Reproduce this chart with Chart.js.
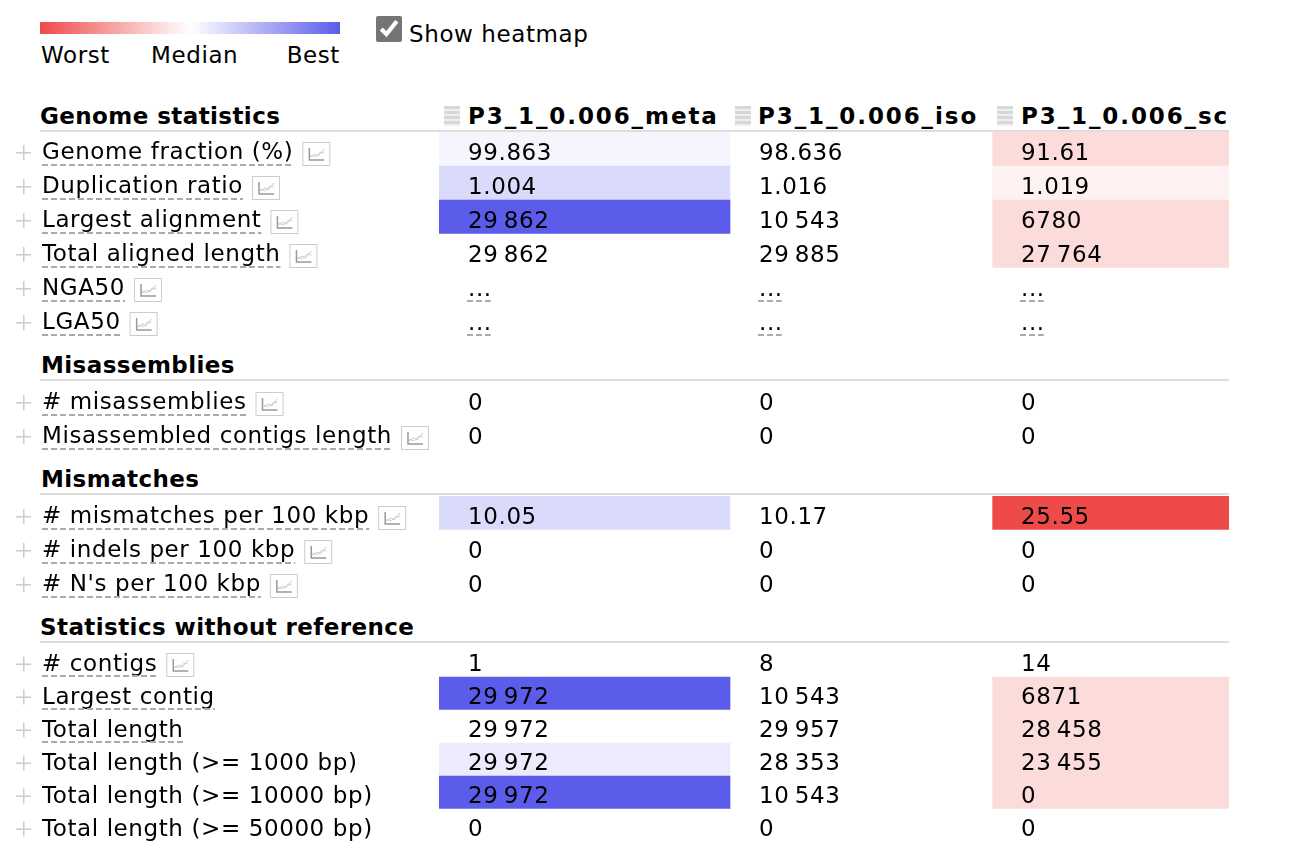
<!DOCTYPE html>
<html lang="en">
<head>
<meta charset="UTF-8" />
<title>Genome statistics</title>
<script src="https://cdn.jsdelivr.net/npm/chart.js"></script>
<style>
  html, body { margin: 0; background: #fff; overflow: hidden; }
  body { position: relative; width: 1311px; height: 851px; font: 23px "DejaVu Sans", sans-serif; letter-spacing: 0.6px; color: #000; }
  .abs { position: absolute; white-space: nowrap; line-height: 26px; }
  canvas { position: absolute; left: 0; }
  .head { font-weight: bold; letter-spacing: 0.42px; }
  .col { letter-spacing: 1.9px; }
  .rule { position: absolute; left: 40px; width: 1189px; height: 2px; background: #ddd; }
  .grip { position: absolute; width: 16px; height: 20px; background: repeating-linear-gradient(#d8d8d8 0 3px, #efefef 3px 5px); }
  #bar { position: absolute; left: 40px; top: 22px; width: 300px; height: 12px; background: linear-gradient(90deg, #ef4a4a, #fff 50%, #5c5ceb); }
  #heat { position: absolute; left: 376px; top: 16px; width: 26px; height: 26px; margin: 0; accent-color: #757575; }
</style>
</head>
<body>
  <div id="bar"></div>
  <div class="abs" style="left:41px;top:42px">Worst</div>
  <div class="abs" style="left:151px;top:42px">Median</div>
  <div class="abs" style="right:971px;top:42px">Best</div>
  <input id="heat" type="checkbox" checked />
  <div class="abs" style="left:409px;top:21px">Show heatmap</div>

  <div class="abs head" style="left:40px;top:103px">Genome statistics</div>
  <div class="grip" style="left:444px;top:106px"></div>
  <div class="abs head col" style="left:468px;top:103px">P3_1_0.006_meta</div>
  <div class="grip" style="left:735px;top:106px"></div>
  <div class="abs head col" style="left:758px;top:103px">P3_1_0.006_iso</div>
  <div class="grip" style="left:997px;top:106px"></div>
  <div class="abs head col" style="left:1021px;top:103px">P3_1_0.006_sc</div>
  <div class="rule" style="top:130px"></div>

  <div class="abs head" style="left:41px;top:352px">Misassemblies</div>
  <div class="rule" style="top:379px"></div>
  <div class="abs head" style="left:41px;top:466px">Mismatches</div>
  <div class="rule" style="top:493px"></div>
  <div class="abs head" style="left:40px;top:614px">Statistics without reference</div>
  <div class="rule" style="top:641px"></div>

  <canvas id="genomeChart"></canvas>
  <canvas id="misassemblyChart"></canvas>
  <canvas id="mismatchChart"></canvas>
  <canvas id="noRefChart"></canvas>

  <script>
    // cell texts, one list per assembly; heat is -1 (worst) .. 1 (best), 0 = no fill
    const genomeLabels = ['Genome fraction (%)', 'Duplication ratio', 'Largest alignment', 'Total aligned length', 'NGA50', 'LGA50'];
    const genomeMeta = ['99.863', '1.004', '29\u2009862', '29\u2009862', '...', '...'];
    const genomeIso = ['98.636', '1.016', '10\u2009543', '29\u2009885', '...', '...'];
    const genomeSc = ['91.61', '1.019', '6780', '27\u2009764', '...', '...'];
    const genomeHeatMeta = [0.06, 0.23, 1, 0, 0, 0];
    const genomeHeatIso = [0, 0, 0, 0, 0, 0];
    const genomeHeatSc = [-0.2, -0.08, -0.2, -0.2, 0, 0];

    const misassemblyLabels = ['# misassemblies', 'Misassembled contigs length'];
    const misassemblyMeta = ['0', '0'];
    const misassemblyIso = ['0', '0'];
    const misassemblySc = ['0', '0'];
    const misassemblyHeatMeta = [0, 0];
    const misassemblyHeatIso = [0, 0];
    const misassemblyHeatSc = [0, 0];

    const mismatchLabels = ['# mismatches per 100 kbp', '# indels per 100 kbp', "# N's per 100 kbp"];
    const mismatchMeta = ['10.05', '0', '0'];
    const mismatchIso = ['10.17', '0', '0'];
    const mismatchSc = ['25.55', '0', '0'];
    const mismatchHeatMeta = [0.23, 0, 0];
    const mismatchHeatIso = [0, 0, 0];
    const mismatchHeatSc = [-1, 0, 0];

    const noRefLabels = ['# contigs', 'Largest contig', 'Total length', 'Total length (>= 1000 bp)', 'Total length (>= 10000 bp)', 'Total length (>= 50000 bp)'];
    const noRefMeta = ['1', '29\u2009972', '29\u2009972', '29\u2009972', '29\u2009972', '0'];
    const noRefIso = ['8', '10\u2009543', '29\u2009957', '28\u2009353', '10\u2009543', '0'];
    const noRefSc = ['14', '6871', '28\u2009458', '23\u2009455', '0', '0'];
    const noRefHeatMeta = [0, 1, 0, 0.12, 1, 0];
    const noRefHeatIso = [0, 0, 0, 0, 0, 0];
    const noRefHeatSc = [0, -0.2, -0.2, -0.2, -0.2, 0];

    const assemblies = ['P3_1_0.006_meta', 'P3_1_0.006_iso', 'P3_1_0.006_sc'];
    const noIcon = ['Largest contig', 'Total length', 'Total length (>= 1000 bp)', 'Total length (>= 10000 bp)', 'Total length (>= 50000 bp)'];
    const noUnderline = ['Total length (>= 1000 bp)', 'Total length (>= 10000 bp)', 'Total length (>= 50000 bp)'];

    // table layout
    const columnWidths = [291, 262, 237];
    const labelColumn = 439;
    const labelLeft = 42;
    const textFont = '23px "DejaVu Sans", sans-serif';

    function heatColor(h) {
      const full = h < 0 ? [239, 74, 74] : [92, 92, 235];
      const a = Math.abs(h);
      const c = full.map(v => Math.round(255 + (v - 255) * a));
      return `rgb(${c[0]},${c[1]},${c[2]})`;
    }

    function dashed(ctx, x1, x2, y) {
      ctx.save();
      ctx.strokeStyle = '#aaa';
      ctx.lineWidth = 2;
      ctx.setLineDash([6, 3]);
      ctx.beginPath();
      ctx.moveTo(x1, y);
      ctx.lineTo(x2, y);
      ctx.stroke();
      ctx.restore();
    }

    function chartIcon(ctx, x, y) {
      ctx.save();
      ctx.strokeStyle = '#ccc';
      ctx.lineWidth = 1;
      ctx.strokeRect(x + 0.5, y + 0.5, 27, 23);
      ctx.strokeStyle = '#999';
      ctx.lineWidth = 1.5;
      ctx.beginPath();
      ctx.moveTo(x + 7, y + 6);
      ctx.lineTo(x + 7, y + 18);
      ctx.lineTo(x + 22, y + 18);
      ctx.stroke();
      ctx.lineWidth = 1;
      ctx.strokeStyle = '#f0b4b4';
      ctx.beginPath();
      ctx.moveTo(x + 8, y + 15);
      ctx.lineTo(x + 13, y + 12);
      ctx.lineTo(x + 16, y + 14);
      ctx.lineTo(x + 22, y + 7);
      ctx.stroke();
      ctx.strokeStyle = '#b4d8f0';
      ctx.beginPath();
      ctx.moveTo(x + 8, y + 13);
      ctx.lineTo(x + 13, y + 15);
      ctx.lineTo(x + 18, y + 10);
      ctx.lineTo(x + 22, y + 11);
      ctx.stroke();
      ctx.restore();
    }

    // draws what a bar chart has no option for: cell texts, row marks
    const tableMarks = {
      id: 'tableMarks',
      afterDatasetsDraw(chart) {
        const { ctx, scales: { y } } = chart;
        const rowH = y.getPixelForValue(1) - y.getPixelForValue(0);
        ctx.save();
        ctx.font = textFont;
        ctx.textBaseline = 'middle';
        ctx.fillStyle = '#000';
        chart.data.labels.forEach((label, i) => {
          const cy = y.getPixelForValue(i);
          const bottom = cy + rowH / 2;
          const w = ctx.measureText(label).width;

          ctx.fillStyle = '#ccc';
          ctx.fillRect(16, cy + 3, 15, 1.5);
          ctx.fillRect(23, cy - 4, 1.5, 15);

          if (!noUnderline.includes(label)) dashed(ctx, labelLeft, labelLeft + w, bottom - 1);
          if (!noIcon.includes(label)) chartIcon(ctx, labelLeft + w + 9, bottom - 24);

          ctx.fillStyle = '#000';
          chart.data.datasets.forEach((ds, d) => {
            const bar = chart.getDatasetMeta(d).data[i];
            const left = bar.base;
            const text = ds.texts[i];
            ctx.fillText(text, left + 29, cy + 5);
            if (text === '...') dashed(ctx, left + 28, left + 28 + ctx.measureText(text).width, bottom - 1);
          });
        });
        ctx.restore();
      }
    };

    function tableSection(id, top, rowH, labels, texts, heats) {
      const canvas = document.getElementById(id);
      canvas.style.top = top + 'px';
      canvas.width = labelColumn + columnWidths.reduce((a, b) => a + b, 0);
      canvas.height = rowH * labels.length;
      canvas.getContext('2d').letterSpacing = '0.6px';
      return new Chart(canvas, {
        type: 'bar',
        data: {
          labels: labels,
          datasets: assemblies.map((name, c) => ({
            label: name,
            texts: texts[c],
            data: labels.map(() => columnWidths[c]),
            backgroundColor: heats[c].map(heatColor),
            barPercentage: 1,
            categoryPercentage: 1,
            borderWidth: 0
          }))
        },
        options: {
          indexAxis: 'y',
          responsive: false,
          animation: false,
          devicePixelRatio: 1,
          layout: { padding: { left: labelLeft, right: 0, top: 0, bottom: 0 } },
          plugins: { legend: { display: false }, tooltip: { enabled: false } },
          scales: {
            x: { display: false, stacked: true, min: 0, max: columnWidths.reduce((a, b) => a + b, 0) },
            y: {
              stacked: true,
              grid: { display: false },
              border: { display: false },
              afterFit(scale) {
                scale.width = labelColumn - labelLeft;
                scale.paddingTop = 0;
                scale.paddingBottom = 0;
              },
              ticks: {
                crossAlign: 'far',
                autoSkip: false,
                padding: 0,
                labelOffset: 4.5,
                color: '#000',
                font: { family: '"DejaVu Sans", sans-serif', size: 23 }
              }
            }
          }
        },
        plugins: [tableMarks]
      });
    }

    tableSection('genomeChart', 132, 34, genomeLabels,
      [genomeMeta, genomeIso, genomeSc], [genomeHeatMeta, genomeHeatIso, genomeHeatSc]);
    tableSection('misassemblyChart', 382, 34, misassemblyLabels,
      [misassemblyMeta, misassemblyIso, misassemblySc], [misassemblyHeatMeta, misassemblyHeatIso, misassemblyHeatSc]);
    tableSection('mismatchChart', 496, 34, mismatchLabels,
      [mismatchMeta, mismatchIso, mismatchSc], [mismatchHeatMeta, mismatchHeatIso, mismatchHeatSc]);
    tableSection('noRefChart', 644, 33, noRefLabels,
      [noRefMeta, noRefIso, noRefSc], [noRefHeatMeta, noRefHeatIso, noRefHeatSc]);
  </script>
</body>
</html>
